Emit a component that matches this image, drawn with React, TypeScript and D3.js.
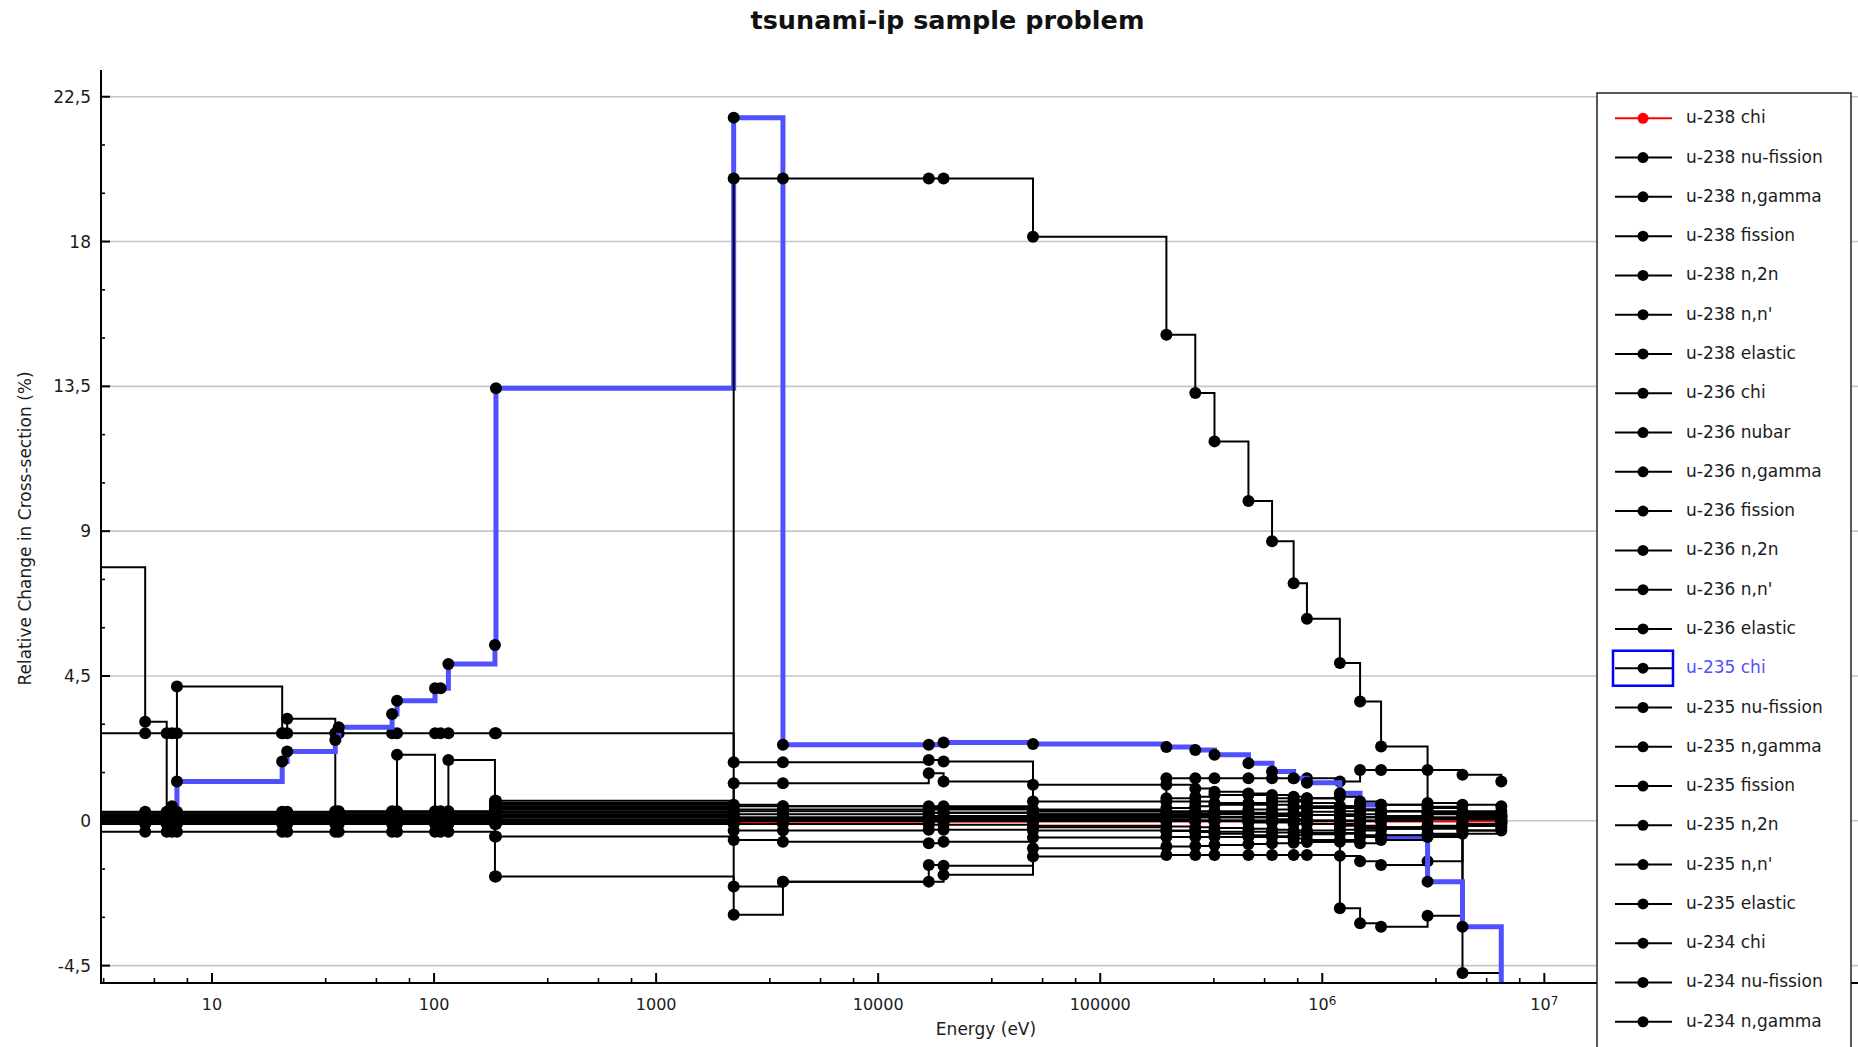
import React from "react";
import * as d3 from "d3";

// Group lower-boundary energies (eV) shared by every sensitivity series
const energyEv = [
  1.0, 5.0, 6.25, 6.6, 6.95, 20.7, 21.8, 35.9, 37.2, 64.7, 68.1, 101, 107, 116, 188, 190,
  2235, 3725, 16900, 19700, 49800, 198600, 268000, 327000, 465000, 594000, 743000, 853000,
  1.2e6, 1.48e6, 1.84e6, 2.98e6, 4.28e6, 6.4e6,
];

// Relative change in cross-section (%) per group
const u238Chi = [0.02, 0.02, 0.02, 0.02, 0.02, 0.02, 0.02, 0.02, 0.02, 0.02, 0.02, 0.02, 0.02, 0.02, 0.02, 0.02, -0.07, -0.03, -0.03, -0.03, -0.02, -0.02, -0.02, -0.02, -0.02, -0.02, -0.02, -0.02, -0.02, -0.02, -0.02, -0.02, -0.02, -0.02];
const u238NuFission = [0.08, 0.08, 0.1, 0.1, 0.1, 0.08, 0.08, 0.08, 0.08, 0.1, 0.1, 0.1, 0.1, 0.1, 0.1, 0.45, -2.92, -1.89, -1.89, -1.68, -1.11, -1.06, -1.06, -1.06, -1.06, -1.06, -1.06, -1.06, -1.09, -1.26, -1.37, -1.26, -0.1, -0.05];
const u238NGamma = [-0.05, -0.05, -0.05, -0.05, -0.05, -0.05, -0.05, -0.05, -0.05, -0.05, -0.05, -0.05, -0.05, -0.05, -0.05, -0.05, -0.6, -0.65, -0.7, -0.65, -0.52, -0.5, -0.5, -0.5, -0.5, -0.48, -0.45, -0.42, -0.38, -0.3, -0.25, -0.2, -0.1, -0.05];
const u238Fission = [-0.34, -0.34, -0.34, -0.34, -0.34, -0.34, -0.34, -0.34, -0.34, -0.34, -0.34, -0.34, -0.34, -0.34, -0.49, -0.49, -0.3, -0.3, -0.28, -0.28, -0.3, -0.32, -0.32, -0.34, -0.34, -0.36, -0.36, -0.38, -0.4, -0.45, -0.5, -0.45, -0.3, -0.15];
const u238N2n = [0, 0, 0, 0, 0, 0, 0, 0, 0, 0, 0, 0, 0, 0, 0, 0, 0, 0, 0, 0, 0, 0, 0, 0, 0, 0, 0, 0, 0, 0, 0.02, 0.44, -4.73, -6.5];
const u238NNprime = [0.05, 0.05, 0.05, 0.05, 0.05, 0.05, 0.05, 0.05, 0.05, 0.05, 0.05, 0.05, 0.05, 0.05, 0.4, 0.4, 0.45, 0.45, 0.45, 0.45, 0.3, 1.32, 1.32, 1.32, 1.32, 1.32, 1.32, 1.32, -2.72, -3.18, -3.29, -2.95, 0.2, 0.1];
const u238Elastic = [2.72, 2.72, 2.72, 2.72, 2.72, 2.72, 2.72, 2.72, 2.72, 2.72, 2.72, 2.72, 2.72, 2.72, 2.72, 2.72, 1.82, 1.82, 1.89, 1.84, 1.12, 1.12, 1.0, 0.9, 0.8, 0.7, 0.6, 0.55, 0.45, 0.35, 0.3, 0.2, 0.15, 0.1];
const u236Chi = [0.2, 0.2, 0.2, 0.2, 0.2, 0.2, 0.2, 0.2, 0.2, 0.2, 0.2, 0.2, 0.2, 0.2, 0.35, 0.35, 0.35, 0.35, 0.35, 0.35, 0.35, 0.7, 0.75, 0.8, 0.85, 0.8, 0.75, 0.7, 1.22, 1.58, 1.58, 0.3, 0.25, 0.15];
const u236Nubar = [0.25, 0.25, 0.25, 0.25, 0.25, 0.25, 0.25, 0.25, 0.25, 0.25, 0.25, 0.25, 0.25, 0.25, 0.25, 0.25, 0.05, 0.05, 0.15, 0.15, 0.2, 0.25, 0.3, 0.3, 0.35, 0.35, 0.4, 0.4, 0.45, 0.5, 0.5, 0.55, 0.5, 0.45];
const u236NGamma = [7.88, 3.08, 0.12, 0.12, 0.12, 0.12, 0.12, 0.12, 0.12, 0.12, 0.12, 0.12, 0.12, 0.12, 0.2, 0.2, 0.1, 0.1, 0.12, 0.12, 0.15, 0.2, 0.22, 0.25, 0.25, 0.22, 0.2, 0.18, 0.15, 0.1, 0.08, 0.05, 0.04, 0.03];
const u236Fission = [0.1, 0.1, 0.12, 0.12, 4.17, 2.72, 3.17, 0.3, 0.3, 0.3, 0.3, 0.3, 0.3, 0.3, 0.3, 0.3, 0.08, 0.08, 0.1, 0.1, 0.12, 0.15, 0.18, 0.2, 0.2, 0.22, 0.25, 0.28, 0.3, 0.32, 0.3, 0.25, 0.2, 0.15];
const u236N2n = [0, 0, 0, 0, 0, 0, 0, 0, 0, 0, 0, 0, 0, 0, 0, 0, 0, 0, 0, 0, 0, 0, 0, 0, 0, 0, 0, 0, 0, 0, 0, 0.05, 0.1, 0.15];
const u236NNprime = [0.1, 0.1, 0.1, 0.1, 0.1, 0.1, 0.1, 0.1, 0.1, 0.1, 0.1, 0.1, 0.1, 1.89, 0.55, 0.55, 0.3, 0.3, 0.25, 0.25, 0.2, 0.15, 0.15, 0.1, 0.1, 0.05, 0.05, 0.0, -0.1, -0.15, -0.2, -0.25, -0.15, -0.1];
const u236Elastic = [0.18, 0.18, 0.18, 0.18, 0.18, 0.18, 0.18, 0.18, 0.18, 0.18, 2.05, 0.18, 0.18, 0.18, 0.5, 0.5, -0.1, -0.1, -0.12, -0.12, -0.15, -0.18, -0.2, -0.22, -0.25, -0.28, -0.3, -0.3, -0.28, -0.25, -0.2, -0.15, -0.1, -0.05];
const u235Chi = [0.1, 0.1, 0.1, 0.45, 1.22, 1.84, 2.15, 2.51, 2.91, 3.32, 3.73, 4.12, 4.12, 4.87, 5.46, 13.44, 21.85, 2.36, 2.36, 2.43, 2.39, 2.29, 2.2, 2.05, 1.79, 1.53, 1.32, 1.18, 0.86, 0.49, -0.49, -1.89, -3.29, -7.0];
const u235NuFission = [0.05, 0.05, 0.05, 0.05, 0.05, 0.05, 0.05, 0.05, 0.05, 0.05, 0.05, 0.05, 0.05, 0.05, 0.05, 0.05, 0.2, 0.2, 0.25, 0.25, 0.3, 0.4, 0.45, 0.5, 0.55, 0.6, 0.65, 0.7, 0.75, 0.6, 0.5, 0.4, 0.3, 0.2];
const u235NGamma = [0.1, 0.1, 0.1, 0.1, 0.1, 0.1, 0.1, 0.1, 0.1, 0.1, 0.1, 0.1, 0.1, 0.1, 0.1, 0.1, 19.96, 19.96, 19.96, 19.96, 18.15, 15.1, 13.29, 11.79, 9.94, 8.69, 7.38, 6.28, 4.9, 3.71, 2.31, 1.58, 1.43, 1.22];
const u235Fission = [0.15, 0.15, 0.15, 0.15, 0.15, 0.15, 0.15, 0.15, 0.15, 0.15, 0.15, 0.15, 0.15, 0.15, 0.15, 0.15, 1.17, 1.17, 1.48, 1.22, 0.6, 0.6, 0.6, 0.55, 0.5, 0.5, 0.45, 0.45, 0.4, 0.35, 0.3, 0.25, 0.2, 0.15];
const u235N2n = [0, 0, 0, 0, 0, 0, 0, 0, 0, 0, 0, 0, 0, 0, 0, 0, 0, 0, 0, 0, 0, 0, 0, 0, 0, 0, 0, 0, 0, 0, 0.02, 0.1, 0.2, 0.3];
const u235NNprime = [0.0, 0.0, 0.0, 0.0, 0.0, 0.0, 0.0, 0.0, 0.0, 0.0, 0.0, 0.0, 0.0, 0.0, -0.1, -0.1, 0.05, 0.05, 0.05, 0.05, -0.2, -0.3, -0.35, -0.4, -0.45, -0.5, -0.55, -0.6, -0.65, -0.7, -0.6, -0.5, -0.4, -0.3];
const u235Elastic = [-0.1, -0.1, -0.1, -0.1, -0.1, -0.1, -0.1, -0.1, -0.1, -0.1, -0.1, -0.1, -0.1, -0.1, -1.73, -1.73, -2.04, -1.89, -1.37, -1.4, -0.85, -0.8, -0.78, -0.75, -0.72, -0.7, -0.68, -0.66, -0.6, -0.5, -0.45, -0.4, -0.3, -0.2];
const u234Chi = [0.28, 0.28, 0.28, 0.28, 0.28, 0.28, 0.28, 0.28, 0.28, 0.28, 0.28, 0.28, 0.28, 0.28, 0.0, 0.0, 0.05, 0.05, 0.05, 0.05, 0.08, 0.1, 0.1, 0.12, 0.12, 0.15, 0.15, 0.18, 0.2, 0.2, 0.15, 0.1, 0.05, 0.02];
const u234NuFission = [0.1, 0.1, 0.1, 0.1, 0.1, 0.1, 0.1, 0.1, 0.1, 0.1, 0.1, 0.1, 0.1, 0.1, 0.62, 0.62, 0.5, 0.45, 0.4, 0.4, 0.3, 0.3, 0.28, 0.26, 0.24, 0.22, 0.2, 0.18, 0.15, 0.12, 0.1, 0.08, 0.06, 0.04];
const u234NGamma = [0.15, 0.15, 0.15, 0.15, 0.15, 0.15, 0.15, 0.15, 0.15, 0.15, 0.15, 0.15, 0.15, 0.15, 0.15, 0.15, 0.1, 0.1, 0.08, 0.08, 0.05, 0.05, 0.0, 0.0, -0.05, -0.05, -0.1, -0.1, -0.15, -0.2, -0.25, -0.2, -0.15, -0.1];

const seriesList = [
  { name: "u-238 chi", values: u238Chi, color: "#ff0000" },
  { name: "u-238 nu-fission", values: u238NuFission, color: "#000000" },
  { name: "u-238 n,gamma", values: u238NGamma, color: "#000000" },
  { name: "u-238 fission", values: u238Fission, color: "#000000" },
  { name: "u-238 n,2n", values: u238N2n, color: "#000000" },
  { name: "u-238 n,n'", values: u238NNprime, color: "#000000" },
  { name: "u-238 elastic", values: u238Elastic, color: "#000000" },
  { name: "u-236 chi", values: u236Chi, color: "#000000" },
  { name: "u-236 nubar", values: u236Nubar, color: "#000000" },
  { name: "u-236 n,gamma", values: u236NGamma, color: "#000000" },
  { name: "u-236 fission", values: u236Fission, color: "#000000" },
  { name: "u-236 n,2n", values: u236N2n, color: "#000000" },
  { name: "u-236 n,n'", values: u236NNprime, color: "#000000" },
  { name: "u-236 elastic", values: u236Elastic, color: "#000000" },
  { name: "u-235 chi", values: u235Chi, color: "#000000" },
  { name: "u-235 nu-fission", values: u235NuFission, color: "#000000" },
  { name: "u-235 n,gamma", values: u235NGamma, color: "#000000" },
  { name: "u-235 fission", values: u235Fission, color: "#000000" },
  { name: "u-235 n,2n", values: u235N2n, color: "#000000" },
  { name: "u-235 n,n'", values: u235NNprime, color: "#000000" },
  { name: "u-235 elastic", values: u235Elastic, color: "#000000" },
  { name: "u-234 chi", values: u234Chi, color: "#000000" },
  { name: "u-234 nu-fission", values: u234NuFission, color: "#000000" },
  { name: "u-234 n,gamma", values: u234NGamma, color: "#000000" },
];

const selectedSeries = "u-235 chi";

const yTickValues = [-4.5, 0, 4.5, 9, 13.5, 18, 22.5];
const yTickLabels = ["-4,5", "0", "4,5", "9", "13,5", "18", "22,5"];
const xTickValues = [10, 100, 1000, 10000, 100000, 1e6, 1e7, 1e8];
const xTickLabels = ["10", "100", "1000", "10000", "100000", "10^6", "10^7", "10^8"];
const xMinorMantissas = [3.25, 5.5, 7.75];

const FONT = "'DejaVu Sans', Verdana, sans-serif";
const TEXT = "#1c1c1c";

export default function App() {
  const W = 1858;
  const H = 1047;
  const plot = { left: 101, top: 70, right: 1877.4, bottom: 983 };

  const x = d3
    .scaleLog()
    .domain([Math.pow(10, 0.5), Math.pow(10, 8.5)])
    .range([plot.left, plot.right]);
  const y = d3.scaleLinear().domain([-5.04, 23.33]).range([plot.bottom, plot.top]);

  const line = d3
    .line<[number, number]>()
    .x((d) => x(d[0]))
    .y((d) => y(d[1]))
    .curve(d3.curveStepAfter);

  const yMinor = d3
    .range(-4.5, 23.4, 1.5)
    .filter((v) => Math.abs(v / 4.5 - Math.round(v / 4.5)) > 1e-6);

  const xMinor: number[] = [];
  for (let n = 0; n <= 8; n++) {
    for (const m of xMinorMantissas) {
      const v = m * Math.pow(10, n);
      if (x(v) >= plot.left && x(v) <= W) xMinor.push(v);
    }
  }

  const legend = { x: 1597, y: 93, w: 254, first: 118.3, step: 39.28 };

  return (
    <svg
      width={W}
      height={H}
      style={{ position: "absolute", left: 0, top: 0, background: "#fff" }}
      fontFamily={FONT}
    >
      <defs>
        <clipPath id="plot-area">
          <rect x={plot.left} y={plot.top} width={plot.right - plot.left} height={plot.bottom - plot.top} />
        </clipPath>
      </defs>
      <rect x={0} y={0} width={W} height={H} fill="#fff" />

      {/* title */}
      <text x={947.5} y={29.3} textAnchor="middle" fontWeight="bold" fontSize={25.5} fill="#111">
        tsunami-ip sample problem
      </text>

      {/* horizontal grid */}
      {yTickValues.map((v) => (
        <line key={"g" + v} x1={plot.left} x2={plot.right} y1={y(v)} y2={y(v)} stroke="#c6c6c6" strokeWidth={1.6} />
      ))}

      {/* curves */}
      <g clipPath="url(#plot-area)">
        {seriesList.map((s) => {
          const pts = energyEv.map((e, i) => [e, s.values[i]] as [number, number]);
          const isSel = s.name === selectedSeries;
          return (
            <g key={s.name}>
              <path
                d={line(pts) || ""}
                fill="none"
                stroke={isSel ? "#5050ff" : s.color}
                strokeWidth={isSel ? 5 : 2}
                strokeLinejoin="miter"
              />
              {pts.map((p, i) => (
                <circle key={i} cx={x(p[0])} cy={y(p[1])} r={6} fill={s.color} />
              ))}
            </g>
          );
        })}
      </g>

      {/* y axis */}
      <line x1={plot.left} x2={plot.left} y1={plot.top} y2={plot.bottom + 1} stroke="#000" strokeWidth={2} />
      {yTickValues.map((v, i) => (
        <g key={"yt" + v}>
          <line x1={plot.left} x2={plot.left + 9} y1={y(v)} y2={y(v)} stroke="#000" strokeWidth={2} />
          <text x={91} y={y(v) + 6} textAnchor="end" fontSize={17} fill={TEXT}>
            {yTickLabels[i]}
          </text>
        </g>
      ))}
      {yMinor.map((v) => (
        <line key={"ym" + v} x1={plot.left} x2={plot.left + 4} y1={y(v)} y2={y(v)} stroke="#000" strokeWidth={1.6} />
      ))}
      <text
        transform={`translate(31, 528.5) rotate(-90)`}
        textAnchor="middle"
        fontSize={17}
        fill={TEXT}
      >
        Relative Change in Cross-section (%)
      </text>

      {/* x axis */}
      <line x1={plot.left - 1} x2={W} y1={plot.bottom} y2={plot.bottom} stroke="#000" strokeWidth={2} />
      {xTickValues.map((v, i) => {
        const label = xTickLabels[i];
        const sup = label.startsWith("10^");
        return (
          <g key={"xt" + v}>
            <line x1={x(v)} x2={x(v)} y1={plot.bottom} y2={plot.bottom - 10} stroke="#000" strokeWidth={2} />
            <text x={x(v)} y={1009.5} textAnchor="middle" fontSize={16} fill={TEXT}>
              {sup ? (
                <>
                  10
                  <tspan dy={-5} fontSize={12}>
                    {label.slice(3)}
                  </tspan>
                </>
              ) : (
                label
              )}
            </text>
          </g>
        );
      })}
      {xMinor.map((v) => (
        <line key={"xm" + v} x1={x(v)} x2={x(v)} y1={plot.bottom} y2={plot.bottom - 5} stroke="#000" strokeWidth={1.6} />
      ))}
      <text x={986} y={1035} textAnchor="middle" fontSize={17} fill={TEXT}>
        Energy (eV)
      </text>

      {/* legend */}
      <rect x={legend.x} y={legend.y} width={legend.w} height={1000} fill="#fff" stroke="#222" strokeWidth={1.5} />
      {seriesList.map((s, i) => {
        const cy = legend.first + i * legend.step;
        const isSel = s.name === selectedSeries;
        return (
          <g key={"lg" + s.name}>
            {isSel && (
              <rect x={1613} y={cy - 17.5} width={60} height={35} fill="none" stroke="#0000ff" strokeWidth={2.5} />
            )}
            <line x1={1615} x2={1672} y1={cy} y2={cy} stroke={s.color} strokeWidth={2} />
            <circle cx={1643} cy={cy} r={5.5} fill={s.color} />
            <text x={1686} y={cy + 5} fontSize={17} fill={isSel ? "#5050ff" : TEXT}>
              {s.name}
            </text>
          </g>
        );
      })}
    </svg>
  );
}
